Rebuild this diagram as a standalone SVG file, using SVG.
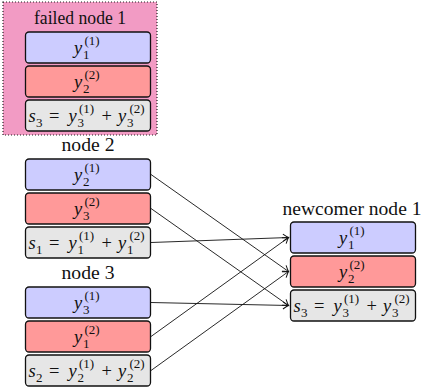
<svg xmlns="http://www.w3.org/2000/svg" width="423" height="390" viewBox="0 0 423 390">
<defs>
<style>
.bx{stroke:#111;stroke-width:1.3}
.b{fill:#CCCCFF}
.r{fill:#FF9999}
.g{fill:#E6E6E6}
.cn{stroke:#111;stroke-width:0.9;fill:none;marker-end:url(#tip)}
</style>
<marker id="tip" markerUnits="userSpaceOnUse" markerWidth="12" markerHeight="12" viewBox="-7 -6 8 12" refX="0" refY="0" orient="auto">
<path d="M-5.5,-3.6 Q-1.8,-0.9 0,0 Q-1.8,0.9 -5.5,3.6" fill="none" stroke="#111" stroke-width="1"/>
</marker>
</defs>
<rect width="423" height="390" fill="#ffffff"/>

<g id="failed-node-1" font-family="Liberation Serif, serif" font-size="18.5" fill="#111">
<rect x="3" y="2" width="154" height="133" fill="#F29BC4" stroke="#222" stroke-width="1.2" stroke-dasharray="1 2"/>
<text x="80" y="24" text-anchor="middle" textLength="92" lengthAdjust="spacingAndGlyphs">failed node 1</text>
<rect class="bx b" x="25.5" y="32" width="125" height="31" rx="3.5"/>
<text><tspan font-style="italic" x="74" y="54">y</tspan><tspan font-size="13" x="83" y="59">1</tspan><tspan font-size="13" x="84.5" y="45">(1)</tspan></text>
<rect class="bx r" x="25.5" y="66" width="125" height="31" rx="3.5"/>
<text><tspan font-style="italic" x="74" y="88">y</tspan><tspan font-size="13" x="83" y="93">2</tspan><tspan font-size="13" x="84.5" y="79">(2)</tspan></text>
<rect class="bx g" x="25.5" y="100" width="125" height="31" rx="3.5"/>
<text><tspan font-style="italic" x="28.5" y="122">s</tspan><tspan font-size="13" x="36" y="127">3</tspan><tspan x="49" y="122">=</tspan><tspan font-style="italic" x="68.5" y="122">y</tspan><tspan font-size="13" x="77.5" y="127">3</tspan><tspan font-size="13" x="79" y="113">(1)</tspan><tspan x="101.5" y="122">+</tspan><tspan font-style="italic" x="118" y="122">y</tspan><tspan font-size="13" x="127" y="127">3</tspan><tspan font-size="13" x="129.5" y="113">(2)</tspan></text>
</g>

<g id="node-2" font-family="Liberation Serif, serif" font-size="18.5" fill="#111">
<text x="88" y="151" text-anchor="middle" textLength="53" lengthAdjust="spacingAndGlyphs">node 2</text>
<rect class="bx b" x="25.5" y="159" width="125" height="31" rx="3.5"/>
<text><tspan font-style="italic" x="74" y="181">y</tspan><tspan font-size="13" x="83" y="186">2</tspan><tspan font-size="13" x="84.5" y="172">(1)</tspan></text>
<rect class="bx r" x="25.5" y="193" width="125" height="31" rx="3.5"/>
<text><tspan font-style="italic" x="74" y="215">y</tspan><tspan font-size="13" x="83" y="220">3</tspan><tspan font-size="13" x="84.5" y="206">(2)</tspan></text>
<rect class="bx g" x="25.5" y="227" width="125" height="31" rx="3.5"/>
<text><tspan font-style="italic" x="28.5" y="249">s</tspan><tspan font-size="13" x="36" y="254">1</tspan><tspan x="49" y="249">=</tspan><tspan font-style="italic" x="68.5" y="249">y</tspan><tspan font-size="13" x="77.5" y="254">1</tspan><tspan font-size="13" x="79" y="240">(1)</tspan><tspan x="101.5" y="249">+</tspan><tspan font-style="italic" x="118" y="249">y</tspan><tspan font-size="13" x="127" y="254">1</tspan><tspan font-size="13" x="129.5" y="240">(2)</tspan></text>
</g>

<g id="node-3" font-family="Liberation Serif, serif" font-size="18.5" fill="#111">
<text x="88" y="279" text-anchor="middle" textLength="53" lengthAdjust="spacingAndGlyphs">node 3</text>
<rect class="bx b" x="25.5" y="287" width="125" height="31" rx="3.5"/>
<text><tspan font-style="italic" x="74" y="309">y</tspan><tspan font-size="13" x="83" y="314">3</tspan><tspan font-size="13" x="84.5" y="300">(1)</tspan></text>
<rect class="bx r" x="25.5" y="321" width="125" height="31" rx="3.5"/>
<text><tspan font-style="italic" x="74" y="343">y</tspan><tspan font-size="13" x="83" y="348">1</tspan><tspan font-size="13" x="84.5" y="334">(2)</tspan></text>
<rect class="bx g" x="25.5" y="355" width="125" height="31" rx="3.5"/>
<text><tspan font-style="italic" x="28.5" y="377">s</tspan><tspan font-size="13" x="36" y="382">2</tspan><tspan x="49" y="377">=</tspan><tspan font-style="italic" x="68.5" y="377">y</tspan><tspan font-size="13" x="77.5" y="382">2</tspan><tspan font-size="13" x="79" y="368">(1)</tspan><tspan x="101.5" y="377">+</tspan><tspan font-style="italic" x="118" y="377">y</tspan><tspan font-size="13" x="127" y="382">2</tspan><tspan font-size="13" x="129.5" y="368">(2)</tspan></text>
</g>

<g id="newcomer-node-1" font-family="Liberation Serif, serif" font-size="18.5" fill="#111">
<text x="352" y="215" text-anchor="middle" textLength="139" lengthAdjust="spacingAndGlyphs">newcomer node 1</text>
<rect class="bx b" x="290.5" y="222" width="125" height="31" rx="3.5"/>
<text><tspan font-style="italic" x="339" y="244">y</tspan><tspan font-size="13" x="348" y="249">1</tspan><tspan font-size="13" x="349.5" y="235">(1)</tspan></text>
<rect class="bx r" x="290.5" y="256" width="125" height="31" rx="3.5"/>
<text><tspan font-style="italic" x="339" y="278">y</tspan><tspan font-size="13" x="348" y="283">2</tspan><tspan font-size="13" x="349.5" y="269">(2)</tspan></text>
<rect class="bx g" x="290.5" y="290" width="125" height="31" rx="3.5"/>
<text><tspan font-style="italic" x="293.5" y="312">s</tspan><tspan font-size="13" x="301" y="317">3</tspan><tspan x="314" y="312">=</tspan><tspan font-style="italic" x="333.5" y="312">y</tspan><tspan font-size="13" x="342.5" y="317">3</tspan><tspan font-size="13" x="344" y="303">(1)</tspan><tspan x="366.5" y="312">+</tspan><tspan font-style="italic" x="383" y="312">y</tspan><tspan font-size="13" x="392" y="317">3</tspan><tspan font-size="13" x="394.5" y="303">(2)</tspan></text>
</g>

<g id="connectors">
<line class="cn" x1="151" y1="174.5" x2="288.5" y2="271.5"/>
<line class="cn" x1="151" y1="208.5" x2="288.5" y2="305.5"/>
<line class="cn" x1="151" y1="242.5" x2="288.5" y2="237.5"/>
<line class="cn" x1="151" y1="302.5" x2="288.5" y2="305.5"/>
<line class="cn" x1="151" y1="336.5" x2="288.5" y2="237.5"/>
<line class="cn" x1="151" y1="370.5" x2="288.5" y2="271.5"/>
</g>
</svg>
